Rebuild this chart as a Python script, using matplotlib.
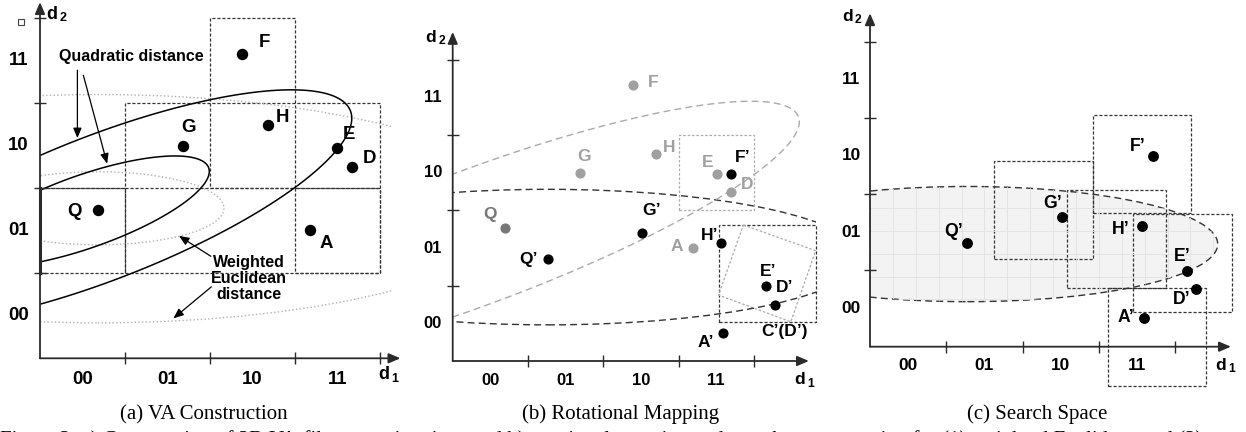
import numpy as np
import matplotlib.pyplot as plt
from matplotlib.patches import Ellipse, Rectangle, Polygon

plt.rcParams['font.family'] = ['Liberation Sans', 'DejaVu Sans']

W, H = 1246, 432
fig = plt.figure(figsize=(W / 100, H / 100), dpi=100)

codes = ['00', '01', '10', '11']
ticks = [1, 2, 3, 4]

# ---- (a) VA construction ----
a_names = ['F', 'H', 'G', 'E', 'D', 'Q', 'A']
a_x = [2.38, 2.68, 1.68, 3.49, 3.67, 0.68, 3.18]
a_y = [3.58, 2.745, 2.50, 2.48, 2.25, 1.75, 1.505]
a_lx = [2.64, 2.85, 1.745, 3.63, 3.88, 0.40, 3.37]
a_ly = [3.71, 2.835, 2.72, 2.63, 2.345, 1.725, 1.35]
a_cells = [(0, 1, 1, 1), (1, 1, 3, 2), (2, 2, 1, 2), (3, 1, 1, 1)]
# points read on the two quadratic-distance ellipses
qbig_x = [0, 0, 0.99, 1.99, 2.98, 3.69, 3.49, 2.99, 0.99]
qbig_y = [2.39, 0.64, 2.76, 3.04, 3.16, 2.84, 2.48, 2.0, 0.96]
qsmall_x = [0, 0, 0.99, 1.45, 1.99, 1.84, 0.99]
qsmall_y = [1.98, 1.137, 2.29, 2.39, 2.215, 1.96, 1.44]
# weighted Euclidean ellipses (cx, cy, half width, half height)
a_weu = [(0.68, 1.765, 1.485, 0.43), (0.68, 1.76, 4.97, 1.343)]

# ---- (b) rotational mapping ----
b_gray = ['F', 'G', 'H', 'E', 'D', 'A']
b_gx = [2.40, 1.69, 2.70, 3.51, 3.69, 3.19]
b_gy = [3.66, 2.50, 2.75, 2.48, 2.25, 1.50]
b_glx = [2.66, 1.74, 2.87, 3.39, 3.91, 2.98]
b_gly = [3.70, 2.72, 2.83, 2.64, 2.35, 1.52]
b_q = (0.695, 1.76, 0.495, 1.94)
b_black = ['F’', 'G’', 'H’', 'Q’', 'E’', 'D’', 'A’']
b_bx = [3.70, 2.52, 3.56, 1.265, 4.165, 4.28, 3.59]
b_by = [2.48, 1.70, 1.57, 1.36, 0.99, 0.75, 0.37]
b_blx = [3.85, 2.64, 3.41, 1.005, 4.19, 4.41, 3.36]
b_bly = [2.70, 2.005, 1.67, 1.35, 1.19, 0.98, 0.25]
bq_x = [0, 0, 1.20, 2.53, 3.20, 3.82, 4.08, 4.48, 4.57, 4.17, 3.73, 2.97, 1.425, 1.0]
bq_y = [2.47, 0.567, 0.99, 1.74, 1.92, 2.31, 2.54, 2.89, 3.16, 3.41, 3.44, 3.36, 2.98, 2.82]
b_weu = (1.265, 1.38, 4.16, 0.90)
b_rot_x = [3.86, 4.82, 4.49, 3.53]
b_rot_y = [1.806, 1.465, 0.52, 0.876]
b_box = (3.53, 0.52, 1.30, 1.286)

# ---- (c) search space ----
c_names = ['F’', 'G’', 'H’', 'Q’', 'E’', 'D’', 'A’']
c_x = [3.705, 2.52, 3.56, 1.277, 4.16, 4.27, 3.595]
c_y = [2.50, 1.70, 1.58, 1.365, 0.996, 0.76, 0.37]
c_lx = [3.51, 2.40, 3.29, 1.10, 4.09, 4.08, 3.36]
c_ly = [2.62, 1.88, 1.53, 1.51, 1.18, 0.625, 0.385]
c_boxes = [(2.92, 1.75), (1.63, 1.15), (2.585, 0.765), (3.45, 0.45), (3.12, -0.52)]
c_box_size = 1.29
c_weu = (1.277, 1.345, 3.28, 0.755)

axis_color = '#2a2a2a'
grid_style = dict(fill=False, ec='#333333', lw=0.9, ls=(0, (2.5, 1.5)))


def panel(ox, oy, cell):
    ax = fig.add_axes([0, 0, 1, 1])
    ax.set_xlim(-ox / cell, (W - ox) / cell)
    ax.set_ylim(-(H - oy) / cell, oy / cell)
    ax.set_axis_off()
    return ax


def frame(ax, xend, yend, fs, off):
    kw = dict(arrowstyle='-|>,head_length=0.7,head_width=0.3', lw=1.3,
              color=axis_color, shrinkA=0, shrinkB=0)
    ax.annotate('', xy=(xend, 0), xytext=(0, 0), arrowprops=kw)
    ax.annotate('', xy=(0, yend), xytext=(0, 0), arrowprops=kw)
    ax.plot(ticks, [0] * 4, ls='none', marker='|', ms=8, mew=1, color=axis_color)
    ax.plot([0] * 4, ticks, ls='none', marker='_', ms=8, mew=1, color=axis_color)
    for i, c in enumerate(codes):
        ax.text(i + 0.5, off, c, ha='center', va='center', fontsize=fs, weight='bold')
        ax.text(off, i + 0.5, c, ha='center', va='center', fontsize=fs, weight='bold')


def dlabel(ax, x, y, sub, fs):
    ax.text(x, y, 'd', ha='center', va='center', fontsize=fs, weight='bold')
    ax.annotate(sub, xy=(x, y), xytext=(fs * 0.45, -fs * 0.22), textcoords='offset points',
                ha='left', va='center', fontsize=fs * 0.7, weight='bold')


def conic(xs, ys):
    x = np.asarray(xs, float)
    y = np.asarray(ys, float)
    m = np.column_stack([x * x, x * y, y * y, x, y])
    coef, *_ = np.linalg.lstsq(m, np.ones_like(x), rcond=None)
    return coef


def draw_conic(ax, coef, xr, yr, **kw):
    gx, gy = np.meshgrid(np.linspace(xr[0], xr[1], 700), np.linspace(yr[0], yr[1], 700))
    f = coef[0] * gx * gx + coef[1] * gx * gy + coef[2] * gy * gy + coef[3] * gx + coef[4] * gy
    ax.contour(gx, gy, f, levels=[1], **kw)


def clipped_ellipse(ax, e, xmax, **kw):
    cx, cy, a, b = e
    p = Ellipse((cx, cy), 2 * a, 2 * b, **kw)
    ax.add_patch(p)
    p.set_clip_path(Rectangle((0, -3), xmax, 10, transform=ax.transData))
    return p


# ================= panel (a) =================
ax = panel(40, 358.3, 85)
for (x0, y0, w, h) in a_cells:
    ax.add_patch(Rectangle((x0, y0), w, h, **grid_style))
ax.plot([0, 4], [2, 2], color='#333333', lw=0.9, ls=(0, (2.5, 1.5)))
for e in a_weu:
    clipped_ellipse(ax, e, 4.14, fill=False, ec='#b0b0b0', lw=1.0, ls=':')
draw_conic(ax, conic(qbig_x, qbig_y), (0, 4.5), (0, 4), colors='k', linewidths=1.1)
draw_conic(ax, conic(qsmall_x, qsmall_y), (0, 4.5), (0, 4), colors='k', linewidths=1.1)
frame(ax, 4.24, 4.19, 13.4, -0.255)
ax.plot([0, 0], [1, 2], color=axis_color, lw=2.2)
ax.plot(a_x, a_y, 'o', color='k', ms=7.2, ls='none', zorder=5)
for n, lx, ly in zip(a_names, a_lx, a_ly):
    ax.text(lx, ly, n, ha='center', va='center', fontsize=13.4, weight='bold')
dlabel(ax, 0.137, 4.05, '2', 13)
dlabel(ax, 4.04, -0.196, '1', 13)
ax.plot([-0.227], [3.96], 's', ms=4, mfc='none', mec='#444444', mew=0.8)
ax.text(1.08, 3.556, 'Quadratic distance', ha='center', va='center', fontsize=11.5, weight='bold')
ax.text(2.46, 0.94, 'Weighted\nEuclidean\ndistance', ha='center', va='center',
        fontsize=11.5, weight='bold', linespacing=1.1)
akw = dict(arrowstyle='-|>,head_length=0.6,head_width=0.25', lw=0.9, color='k',
           shrinkA=0, shrinkB=0)
ax.annotate('', xy=(0.44, 2.59), xytext=(0.44, 3.39), arrowprops=akw)
ax.annotate('', xy=(0.79, 2.29), xytext=(0.51, 3.33), arrowprops=akw)
ax.annotate('', xy=(1.635, 1.44), xytext=(2.01, 1.20), arrowprops=akw)
ax.annotate('', xy=(1.57, 0.47), xytext=(2.015, 0.84), arrowprops=akw)

# ================= panel (b) =================
ax = panel(452.7, 361, 75.3)
ax.add_patch(Rectangle((3, 2), 1, 1, fill=False, ec='#aaaaaa', lw=0.9, ls=(0, (2, 1.5))))
ax.add_patch(Rectangle(b_box[:2], b_box[2], b_box[3], **grid_style))
ax.add_patch(Polygon(np.column_stack([b_rot_x, b_rot_y]), closed=True, fill=False,
                     ec='#aaaaaa', lw=0.9, ls=(0, (2, 1.5))))
draw_conic(ax, conic(bq_x, bq_y), (0, 5), (-0.5, 4.2), colors='#aaaaaa',
           linewidths=1.0, linestyles=[(0, (5, 3))])
clipped_ellipse(ax, b_weu, 4.83, fill=False, ec='#333333', lw=1.0, ls=(0, (5, 3)))
frame(ax, 4.73, 4.37, 12, -0.263)
ax.plot(b_gx, b_gy, 'o', color='#a0a0a0', ms=6.3, ls='none', zorder=5)
for n, lx, ly in zip(b_gray, b_glx, b_gly):
    ax.text(lx, ly, n, ha='center', va='center', fontsize=12.5, weight='bold', color='#a0a0a0')
ax.plot([b_q[0]], [b_q[1]], 'o', color='#777777', ms=6.3, zorder=5)
ax.text(b_q[2], b_q[3], 'Q', ha='center', va='center', fontsize=12.5, weight='bold', color='#777777')
ax.plot(b_bx, b_by, 'o', color='k', ms=6.3, ls='none', zorder=5)
for n, lx, ly in zip(b_black, b_blx, b_bly):
    ax.text(lx, ly, n, ha='center', va='center', fontsize=12.5, weight='bold')
ax.text(4.41, 0.39, 'C’(D’)', ha='center', va='center', fontsize=12.5, weight='bold')
dlabel(ax, -0.29, 4.30, '2', 12.5)
dlabel(ax, 4.60, -0.25, '1', 12.5)

# ================= panel (c) =================
ax = panel(870, 346.7, 76.3)
fill = clipped_ellipse(ax, c_weu, 5, fc='#f3f3f3', ec='none')
for gx in np.arange(0.3, 4.6, 0.3):
    ln, = ax.plot([gx, gx], [0.4, 2.3], color='#e2e2e2', lw=0.6)
    ln.set_clip_path(fill)
for gy in np.arange(0.62, 2.2, 0.3):
    ln, = ax.plot([0, 4.6], [gy, gy], color='#e2e2e2', lw=0.6)
    ln.set_clip_path(fill)
clipped_ellipse(ax, c_weu, 5, fill=False, ec='#333333', lw=1.0, ls=(0, (5, 3)))
for (x0, y0) in c_boxes:
    ax.add_patch(Rectangle((x0, y0), c_box_size, c_box_size, **grid_style))
frame(ax, 4.73, 4.37, 12.4, -0.245)
ax.plot(c_x, c_y, 'o', color='k', ms=6.8, ls='none', zorder=5)
for n, lx, ly in zip(c_names, c_lx, c_ly):
    ax.text(lx, ly, n, ha='center', va='center', fontsize=12.7, weight='bold')
dlabel(ax, -0.30, 4.33, '2', 12.5)
dlabel(ax, 4.59, -0.24, '1', 12.5)

# ================= captions =================
serif = ['Liberation Serif', 'DejaVu Serif']
for cx, cap in [(203.8, '(a) VA Construction'), (620.8, '(b) Rotational Mapping'),
                (1037.3, '(c) Search Space')]:
    fig.text(cx / W, 1 - 419.5 / H, cap, ha='center', va='baseline', fontsize=15, family=serif)
fig.text(0.0, 1 - 445 / H, 'Figure 2: a) Construction of 2D VA-file approximations and b) rotational '
         'mapping and search space creation for (1) weighted Euclidean and (2)',
         ha='left', va='baseline', fontsize=15, family=serif)

fig.savefig('out.png', dpi=100)
